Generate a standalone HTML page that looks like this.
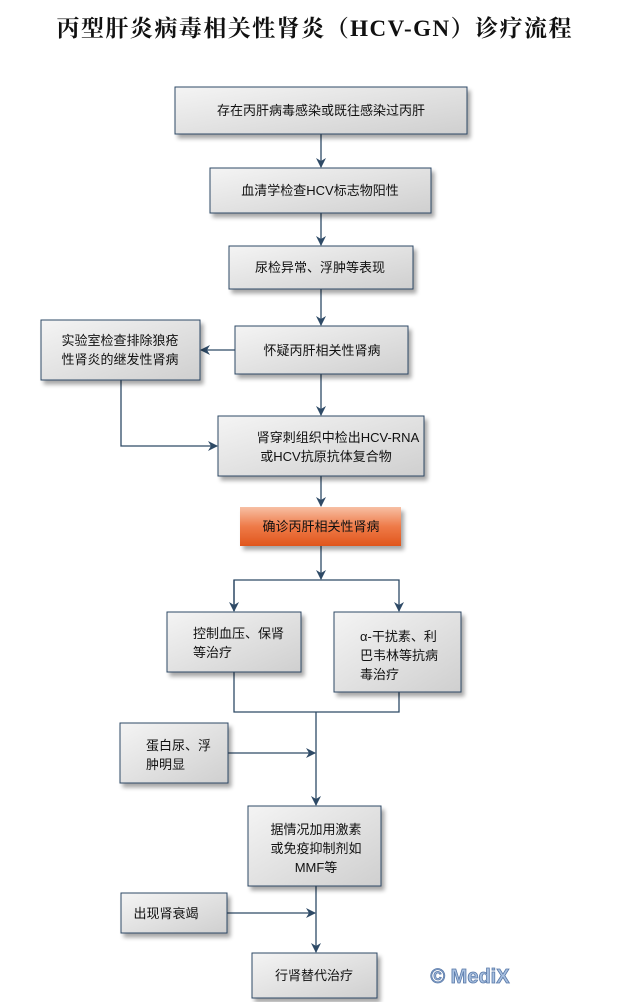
<!DOCTYPE html>
<html><head><meta charset="utf-8"><style>
html,body{margin:0;padding:0;background:#fff;}
svg{display:block;}
text{font-family:"Liberation Sans","Noto Sans CJK SC",sans-serif;font-size:13px;fill:#111;}
</style></head><body>
<svg width="641" height="1002" viewBox="0 0 641 1002" xmlns="http://www.w3.org/2000/svg">
<defs>
<linearGradient id="g" x1="0" y1="0" x2="1" y2="1">
<stop offset="0" stop-color="#f4f4f4"/><stop offset="1" stop-color="#cfcfcf"/></linearGradient>
<linearGradient id="o" x1="0" y1="0" x2="0" y2="1">
<stop offset="0" stop-color="#f7c0a4"/><stop offset="0.5" stop-color="#ee7a48"/><stop offset="1" stop-color="#e0561c"/></linearGradient>
<filter id="s" x="-10%" y="-10%" width="130%" height="140%"><feGaussianBlur in="SourceAlpha" stdDeviation="2"/><feOffset dx="3" dy="4"/><feComponentTransfer><feFuncA type="linear" slope="0.35"/></feComponentTransfer><feMerge><feMergeNode/><feMergeNode in="SourceGraphic"/></feMerge></filter>
<marker id="a" markerWidth="10" markerHeight="10" refX="9" refY="5" orient="auto" markerUnits="userSpaceOnUse"><path d="M0,0 L10,5 L0,10 L3,5 Z" fill="#2e4a66"/></marker>
</defs>
<text x="314" y="36" text-anchor="middle" style="font-family:'Liberation Serif','Noto Serif CJK SC',serif;font-size:23px;font-weight:bold" textLength="515">丙型肝炎病毒相关性肾炎（HCV-GN）诊疗流程</text>
<g stroke="#2e4a66" stroke-width="1.3" fill="none">
<line x1="321" y1="134" x2="321" y2="167" marker-end="url(#a)"/>
<line x1="321" y1="213" x2="321" y2="245" marker-end="url(#a)"/>
<line x1="321" y1="289" x2="321" y2="325" marker-end="url(#a)"/>
<line x1="321" y1="374" x2="321" y2="415" marker-end="url(#a)"/>
<line x1="235" y1="350" x2="201" y2="350" marker-end="url(#a)"/>
<polyline points="121,380 121,446 217,446" marker-end="url(#a)"/>
<line x1="321" y1="476" x2="321" y2="506" marker-end="url(#a)"/>
<line x1="321" y1="546" x2="321" y2="579" marker-end="url(#a)"/>
<polyline points="234,611 234,580 399,580 399,611" marker-end="url(#a)"/>
<line x1="234" y1="580" x2="234" y2="611" marker-end="url(#a)"/>
<polyline points="234,672 234,712 399,712 399,692"/>
<line x1="316" y1="712" x2="316" y2="805" marker-end="url(#a)"/>
<line x1="228" y1="753" x2="315" y2="753" marker-end="url(#a)"/>
<line x1="316" y1="886" x2="316" y2="952" marker-end="url(#a)"/>
<line x1="227" y1="913" x2="315" y2="913" marker-end="url(#a)"/>
</g>
<g stroke="#2e4a66" stroke-width="1" fill="url(#g)" filter="url(#s)">
<rect x="175" y="87" width="292" height="47"/>
<rect x="210" y="168" width="221" height="45"/>
<rect x="229" y="246" width="184" height="43"/>
<rect x="235" y="326" width="173" height="48"/>
<rect x="41" y="320" width="159" height="60"/>
<rect x="218" y="416" width="206" height="60"/>
<rect x="167" y="612" width="134" height="60"/>
<rect x="334" y="612" width="127" height="80"/>
<rect x="120" y="723" width="108" height="60"/>
<rect x="248" y="806" width="133" height="80"/>
<rect x="121" y="893" width="106" height="40"/>
<rect x="252" y="953" width="125" height="45"/>
</g>
<rect x="240" y="507" width="161" height="39" fill="url(#o)" filter="url(#s)"/>
<text x="321" y="115" text-anchor="middle">存在丙肝病毒感染或既往感染过丙肝</text>
<text x="320" y="195" text-anchor="middle">血清学检查HCV标志物阳性</text>
<text x="320" y="272" text-anchor="middle">尿检异常、浮肿等表现</text>
<text x="322" y="355" text-anchor="middle">怀疑丙肝相关性肾病</text>
<text x="120" y="345" text-anchor="middle">实验室检查排除狼疮</text>
<text x="120" y="364" text-anchor="middle">性肾炎的继发性肾病</text>
<text x="338" y="442" text-anchor="middle">肾穿刺组织中检出HCV-RNA</text>
<text x="326" y="461" text-anchor="middle">或HCV抗原抗体复合物</text>
<text x="321" y="531" text-anchor="middle">确诊丙肝相关性肾病</text>
<text x="193" y="638">控制血压、保肾</text>
<text x="193" y="657">等治疗</text>
<text x="360" y="641">α-干扰素、利</text>
<text x="360" y="660">巴韦林等抗病</text>
<text x="360" y="679">毒治疗</text>
<text x="146" y="750">蛋白尿、浮</text>
<text x="146" y="769">肿明显</text>
<text x="316" y="834" text-anchor="middle">据情况加用激素</text>
<text x="316" y="853" text-anchor="middle">或免疫抑制剂如</text>
<text x="316" y="872" text-anchor="middle">MMF等</text>
<text x="166" y="918" text-anchor="middle">出现肾衰竭</text>
<text x="314" y="980" text-anchor="middle">行肾替代治疗</text>
<text x="470" y="983" text-anchor="middle" style="font-size:20px;font-weight:bold;fill:#a8c0e0;stroke:#5878a8;stroke-width:0.8">© MediX</text>
</svg>
</body></html>
